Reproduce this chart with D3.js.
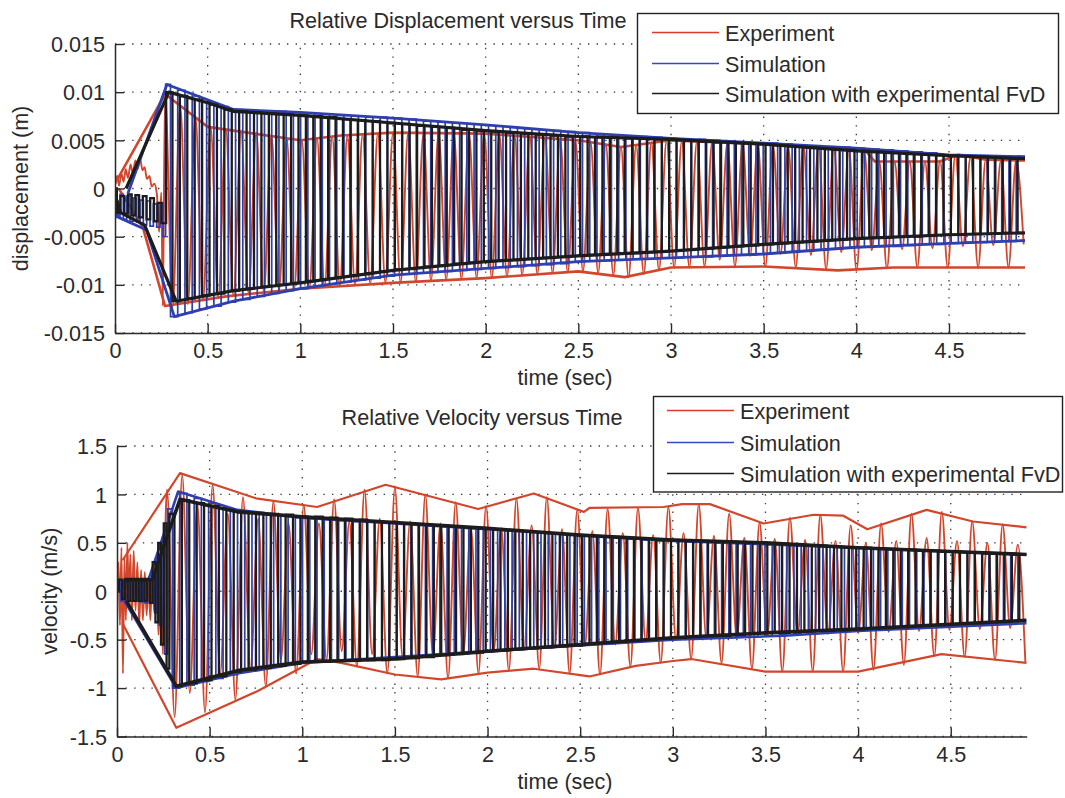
<!DOCTYPE html>
<html>
<head>
<meta charset="utf-8">
<script src="https://cdn.jsdelivr.net/npm/d3@7"></script>
<style>
  body { margin: 0; background: #fff; }
  svg { display: block; }
  text { font-family: "Liberation Sans", Arial, Helvetica, sans-serif; fill: #2a2a2a; }
</style>
</head>
<body>
<svg id="chart" width="1065" height="798"></svg>
<script>
// ---------------------------------------------------------------------------
// Axis ticks and labels
// ---------------------------------------------------------------------------
const timeTicks = [0, 0.5, 1, 1.5, 2, 2.5, 3, 3.5, 4, 4.5];
const timeMax = 4.91;
const dispTicks = [-0.015, -0.01, -0.005, 0, 0.005, 0.01, 0.015];
const velTicks = [-1.5, -1, -0.5, 0, 0.5, 1, 1.5];
const seriesNames = ["Experiment", "Simulation", "Simulation with experimental FvD"];

// ---------------------------------------------------------------------------
// Turning points of each record (time in ms). The same instants are used for
// displacement and velocity peaks of a record.
// ---------------------------------------------------------------------------
const expTurnMs = [270,311,352,393,434,475,516,557,598,639,680,721,762,803,844,885,926,967,1008,1049,
  1090,1131,1172,1213,1254,1295,1336,1377,1418,1459,1500,1541,1582,1623,1664,1705,1746,1787,1828,1869,
  1910,1951,1992,2033,2074,2115,2156,2197,2238,2279,2320,2361,2402,2443,2484,2525,2566,2607,2648,2689,
  2730,2771,2812,2853,2894,2935,2976,3017,3058,3099,3140,3181,3222,3263,3304,3345,3386,3427,3468,3509,
  3550,3591,3632,3673,3714,3755,3796,3837,3878,3919,3960,4001,4042,4083,4124,4165,4206,4247,4288,4329,
  4370,4411,4452,4493,4534,4575,4616,4657,4698,4739,4780,4821,4862,4903];
const simTurnMs = [280,319,358,397,436,475,514,553,592,631,670,709,748,787,826,865,904,943,982,1021,
  1060,1099,1138,1177,1216,1255,1294,1333,1372,1411,1450,1489,1528,1567,1606,1645,1684,1723,1762,1801,
  1840,1879,1918,1957,1996,2035,2074,2113,2152,2191,2230,2269,2308,2347,2386,2425,2464,2503,2542,2581,
  2620,2659,2698,2737,2776,2815,2854,2893,2932,2971,3010,3049,3088,3127,3166,3205,3244,3283,3322,3361,
  3400,3439,3478,3517,3556,3595,3634,3673,3712,3751,3790,3829,3868,3907,3946,3985,4024,4063,4102,4141,
  4180,4219,4258,4297,4336,4375,4414,4453,4492,4531,4570,4609,4648,4687,4726,4765,4804,4843,4882];
const fvdTurnMs = [290,330,370,410,450,490,530,570,610,650,690,730,770,810,850,890,930,970,1010,1050,
  1090,1130,1170,1210,1250,1290,1330,1370,1410,1450,1490,1530,1570,1610,1650,1690,1730,1770,1810,1850,
  1890,1930,1970,2010,2050,2090,2130,2170,2210,2250,2290,2330,2370,2410,2450,2490,2530,2570,2610,2650,
  2690,2730,2770,2810,2850,2890,2930,2970,3010,3050,3090,3130,3170,3210,3250,3290,3330,3370,3410,3450,
  3490,3530,3570,3610,3650,3690,3730,3770,3810,3850,3890,3930,3970,4010,4050,4090,4130,4170,4210,4250,
  4290,4330,4370,4410,4450,4490,4530,4570,4610,4650,4690,4730,4770,4810,4850,4890];

// ---------------------------------------------------------------------------
// Relative displacement (mm)
// ---------------------------------------------------------------------------
// start-up transient, [ms, mm]
const expDispEarly = [[0,0.6],[12,1.3],[22,0.3],[34,1.6],[46,0.7],[58,2.0],[70,1.1],[84,2.5],[96,1.6],
  [110,2.9],[122,2.0],[136,3.1],[148,1.9],[160,2.2],[172,1.0],[186,1.3],[198,0.2],[212,0.5],[226,-0.6],
  [238,-4.5],[250,-0.4],[258,-12.2]];
const simDispEarly = [[0,0],[18,-3.0],[36,-0.6],[54,-3.2],[72,-0.8],[90,-3.4],[108,-1.0],[126,-3.5],
  [144,-1.2],[162,-3.8],[180,-1.3],[198,-3.9],[216,-1.6],[234,-4.0],[252,-1.5],[266,-5.0]];
const fvdDispEarly = [[0,0],[20,-2.5],[40,-0.8],[60,-2.6],[80,-0.6],[100,-2.8],[120,-0.7],[140,-3.0],
  [160,-0.8],[180,-3.2],[200,-1.0],[220,-3.4],[240,-1.5],[262,-3.6]];

// peak values at the turning points, mm
const expDispPeaks = [9.8,-12.3,8.6,-12.0,7.4,-11.6,6.4,-11.3,6.2,-11.1,6.0,-10.9,5.8,-10.8,5.5,-10.6,5.2,-10.5,5.0,-10.3,
  5.2,-10.2,5.4,-10.1,5.5,-10.0,5.6,-9.9,5.7,-9.8,5.8,-9.8,5.8,-9.7,5.7,-9.6,5.8,-9.5,5.7,-9.4,
  5.7,-9.3,5.7,-9.3,5.6,-9.2,5.5,-9.0,5.4,-8.9,5.3,-8.8,5.1,-8.7,5.0,-8.6,4.8,-8.8,4.6,-9.0,
  4.3,-9.2,4.5,-8.9,4.8,-8.5,5.0,-8.2,4.9,-8.2,4.9,-8.1,4.8,-7.4,4.7,-8.1,4.7,-7.0,4.6,-8.1,
  4.5,-6.8,4.4,-8.2,4.4,-6.9,4.3,-8.4,4.2,-6.6,4.1,-8.5,3.9,-6.4,2.8,-8.3,2.8,-6.3,2.8,-8.2,
  2.8,-6.2,2.9,-8.2,3.5,-6.0,3.3,-8.2,3.0,-5.9,2.9,-8.2,2.9,-5.8];
const simDispPeaks = [10.8,-13.3,10.2,-12.9,9.6,-12.5,9.0,-12.2,8.5,-11.8,8.2,-11.5,8.1,-11.2,8.0,-10.9,8.0,-10.6,7.9,-10.4,
  7.8,-10.1,7.7,-9.9,7.6,-9.7,7.5,-9.5,7.4,-9.3,7.4,-9.1,7.3,-8.9,7.2,-8.8,7.0,-8.7,6.9,-8.6,
  6.8,-8.5,6.7,-8.4,6.6,-8.3,6.5,-8.2,6.4,-8.1,6.2,-8.0,6.1,-7.9,6.0,-7.8,5.9,-7.6,5.8,-7.5,
  5.6,-7.5,5.5,-7.4,5.4,-7.3,5.4,-7.3,5.3,-7.2,5.2,-7.2,5.1,-7.1,5.1,-7.1,5.0,-7.0,4.9,-6.9,
  4.8,-6.9,4.7,-6.8,4.7,-6.7,4.6,-6.6,4.5,-6.5,4.4,-6.4,4.3,-6.3,4.3,-6.1,4.2,-6.1,4.1,-6.0,
  4.0,-6.0,3.9,-5.9,3.8,-5.8,3.7,-5.8,3.5,-5.7,3.5,-5.6,3.4,-5.6,3.4,-5.5,3.3,-5.5,3.3];
const fvdDispPeaks = [10.0,-11.7,9.6,-11.4,9.2,-11.1,8.7,-10.9,8.2,-10.6,8.0,-10.4,7.9,-10.2,7.8,-10.0,7.7,-9.8,7.6,-9.6,
  7.5,-9.4,7.4,-9.2,7.2,-9.0,7.1,-8.8,7.0,-8.6,6.8,-8.4,6.7,-8.3,6.5,-8.1,6.4,-8.0,6.3,-7.8,
  6.1,-7.7,6.0,-7.6,5.9,-7.5,5.8,-7.4,5.7,-7.3,5.6,-7.2,5.5,-7.1,5.4,-7.0,5.4,-6.9,5.3,-6.8,
  5.3,-6.7,5.2,-6.7,5.2,-6.6,5.1,-6.5,5.1,-6.4,5.0,-6.3,4.9,-6.2,4.8,-6.1,4.8,-6.0,4.7,-5.9,
  4.6,-5.8,4.5,-5.7,4.4,-5.6,4.3,-5.5,4.2,-5.4,4.1,-5.3,4.0,-5.2,3.9,-5.1,3.8,-5.1,3.7,-5.0,
  3.6,-5.0,3.5,-4.9,3.5,-4.8,3.4,-4.8,3.3,-4.7,3.3,-4.7,3.2,-4.6,3.1,-4.6];

// envelopes, [s, mm]
const expDispUpper = [[0.0,0.5],[0.27,9.8],[0.5,6.4],[1.0,5.0],[1.22,5.5],[1.5,5.8],[2.0,5.7],[2.5,5.0],[2.73,4.3],
  [3.0,5.0],[3.5,4.6],[4.05,3.9],[4.1,2.8],[4.45,2.8],[4.55,3.5],[4.7,3.0],[4.91,2.9]];
const expDispLower = [[0.02,0.0],[0.15,-4.0],[0.27,-12.2],[0.6,-11.2],[1.0,-10.4],[1.5,-9.8],[2.0,-9.3],[2.5,-8.6],
  [2.75,-9.2],[3.0,-8.2],[3.5,-8.1],[3.9,-8.5],[4.2,-8.2],[4.91,-8.2]];
const simDispUpper = [[0.07,-0.5],[0.28,10.8],[0.64,8.2],[1.0,7.9],[1.5,7.3],[2.0,6.6],[2.5,5.8],[3.0,5.2],
  [3.5,4.7],[4.0,4.2],[4.5,3.5],[4.91,3.3]];
const simDispLower = [[0.0,0.0],[0.02,-3.0],[0.17,-4.3],[0.32,-13.3],[0.64,-11.7],[1.0,-10.4],[1.5,-9.0],[2.0,-8.3],
  [2.5,-7.6],[3.0,-7.2],[3.5,-6.8],[4.0,-6.1],[4.5,-5.7],[4.91,-5.4]];
const fvdDispUpper = [[0.06,0.0],[0.29,10.0],[0.5,8.9],[0.64,8.0],[1.0,7.6],[1.5,6.8],[2.0,6.0],[2.5,5.4],
  [3.0,5.1],[3.5,4.6],[4.0,3.9],[4.5,3.4],[4.91,3.1]];
const fvdDispLower = [[0.01,-1.2],[0.03,-2.5],[0.16,-3.8],[0.33,-11.7],[0.5,-11.1],[0.64,-10.6],[1.0,-9.8],
  [1.5,-8.5],[2.0,-7.6],[2.5,-7.0],[3.0,-6.5],[3.5,-5.8],[4.0,-5.2],[4.5,-4.8],[4.91,-4.6]];

// ---------------------------------------------------------------------------
// Relative velocity (m/s)
// ---------------------------------------------------------------------------
const expVelEarly = [[0,0],[8,0.3],[16,-0.35],[24,0.45],[32,-0.85],[40,0.35],[48,-0.3],[56,0.5],[64,-0.15],
  [72,0.38],[80,-0.3],[90,0.42],[100,-0.2],[110,0.3],[120,-0.35],[130,0.22],[140,-0.3],[150,0.2],[160,-0.25],
  [170,0.15],[180,-0.3],[190,0.2],[200,-0.2],[212,0.18],[224,-0.45],[236,0.15],[248,-0.65],[258,0.4]];
const simVelEarly = [[0,0],[14,0.1],[27,-0.1],[40,0.11],[53,-0.1],[66,0.1],[79,-0.1],[92,0.1],[105,-0.1],
  [118,0.1],[131,-0.11],[144,0.1],[157,-0.12],[170,0.12],[183,-0.12],[196,0.2],[209,-0.22],[222,0.35],
  [235,-0.35],[250,0.55],[265,-0.65]];
const fvdVelEarly = [[0,0],[20,0.12],[35,-0.08],[50,0.12],[65,-0.1],[80,0.12],[95,-0.1],[110,0.12],[125,-0.1],
  [140,0.12],[155,-0.1],[170,0.12],[185,-0.12],[200,0.3],[215,-0.32],[230,0.5],[245,-0.55],[260,0.7],[275,-0.8]];

const expVelPeaks = [1.05,-1.30,1.20,-1.05,0.90,-1.25,1.10,-0.85,0.80,-1.12,0.97,-0.80,0.75,-0.98,0.93,-0.70,0.70,-0.85,0.89,-0.65,
  0.70,-0.71,0.95,-0.62,0.72,-0.78,1.05,-0.65,0.75,-0.85,1.07,-0.68,0.72,-0.88,1.00,-0.66,0.70,-0.90,0.92,-0.64,
  0.66,-0.85,0.88,-0.62,0.65,-0.82,0.96,-0.60,0.68,-0.80,0.97,-0.58,0.64,-0.85,0.84,-0.56,0.62,-0.86,0.85,-0.55,
  0.60,-0.78,0.86,-0.52,0.58,-0.74,0.87,-0.50,0.60,-0.70,0.90,-0.49,0.57,-0.74,0.80,-0.48,0.55,-0.80,0.71,-0.46,
  0.54,-0.83,0.76,-0.45,0.53,-0.83,0.79,-0.44,0.52,-0.83,0.68,-0.43,0.50,-0.81,0.70,-0.42,0.52,-0.76,0.80,-0.41,
  0.55,-0.67,0.82,-0.40,0.52,-0.68,0.72,-0.39,0.50,-0.71,0.69,-0.38,0.48,-0.74];
const simVelPeaks = [0.85,-1.00,1.01,-0.97,0.96,-0.93,0.91,-0.90,0.86,-0.86,0.83,-0.82,0.81,-0.80,0.79,-0.78,0.78,-0.76,0.76,-0.74,
  0.75,-0.73,0.74,-0.72,0.73,-0.72,0.72,-0.71,0.72,-0.70,0.71,-0.70,0.70,-0.69,0.69,-0.68,0.68,-0.67,0.67,-0.66,
  0.66,-0.65,0.65,-0.64,0.64,-0.62,0.63,-0.61,0.62,-0.60,0.61,-0.59,0.60,-0.58,0.59,-0.57,0.58,-0.56,0.57,-0.55,
  0.56,-0.54,0.55,-0.53,0.54,-0.52,0.53,-0.51,0.52,-0.50,0.52,-0.49,0.51,-0.49,0.51,-0.48,0.50,-0.48,0.50,-0.47,
  0.49,-0.47,0.49,-0.46,0.48,-0.45,0.48,-0.44,0.47,-0.43,0.47,-0.43,0.46,-0.42,0.45,-0.41,0.45,-0.40,0.44,-0.40,
  0.44,-0.39,0.43,-0.38,0.42,-0.37,0.42,-0.36,0.41,-0.36,0.40,-0.35,0.40,-0.34,0.39,-0.34,0.39,-0.33,0.38];
const fvdVelPeaks = [0.80,-0.98,0.94,-0.95,0.91,-0.92,0.88,-0.88,0.84,-0.83,0.82,-0.81,0.81,-0.79,0.80,-0.77,0.79,-0.75,0.77,-0.73,
  0.77,-0.73,0.76,-0.72,0.75,-0.72,0.74,-0.71,0.72,-0.71,0.71,-0.70,0.70,-0.69,0.69,-0.68,0.68,-0.66,0.67,-0.65,
  0.66,-0.64,0.65,-0.62,0.64,-0.61,0.63,-0.60,0.62,-0.59,0.61,-0.58,0.60,-0.57,0.59,-0.56,0.58,-0.54,0.57,-0.53,
  0.56,-0.52,0.55,-0.51,0.54,-0.50,0.53,-0.49,0.53,-0.48,0.52,-0.47,0.52,-0.46,0.51,-0.46,0.51,-0.45,0.50,-0.44,
  0.50,-0.43,0.49,-0.43,0.48,-0.42,0.47,-0.41,0.47,-0.41,0.46,-0.40,0.45,-0.39,0.45,-0.38,0.44,-0.38,0.43,-0.37,
  0.43,-0.36,0.42,-0.35,0.41,-0.34,0.41,-0.33,0.40,-0.33,0.39,-0.32,0.39,-0.31,0.38,-0.30];

const expVelUpper = [[0.03,0.32],[0.34,1.22],[0.75,0.96],[1.08,0.87],[1.45,1.10],[1.95,0.85],[2.25,1.01],[2.52,0.82],
  [2.55,0.86],[2.95,0.87],[3.05,0.90],[3.2,0.90],[3.49,0.70],[3.76,0.79],[3.92,0.78],[4.05,0.64],[4.37,0.84],
  [4.62,0.72],[4.91,0.66]];
const expVelLower = [[0.03,-0.33],[0.32,-1.41],[0.76,-1.03],[1.08,-0.70],[1.21,-0.74],[1.5,-0.86],[1.75,-0.91],
  [2.0,-0.84],[2.25,-0.80],[2.55,-0.88],[2.8,-0.77],[3.0,-0.72],[3.1,-0.70],[3.5,-0.83],[4.0,-0.83],[4.45,-0.65],
  [4.91,-0.74]];
const simVelUpper = [[0.02,0.1],[0.17,0.12],[0.33,1.03],[0.65,0.84],[1.0,0.76],[2.0,0.64],[3.0,0.52],[4.0,0.45],[4.91,0.38]];
const simVelLower = [[0.04,-0.1],[0.32,-1.0],[0.65,-0.85],[1.0,-0.74],[2.0,-0.62],[3.0,-0.50],[3.6,-0.46],[4.0,-0.41],[4.91,-0.33]];
const fvdVelUpper = [[0.04,0.12],[0.19,0.12],[0.34,0.95],[0.65,0.82],[1.0,0.77],[1.5,0.71],[2.0,0.65],[2.5,0.58],
  [3.0,0.53],[3.5,0.50],[4.0,0.45],[4.5,0.41],[4.91,0.38]];
const fvdVelLower = [[0.05,-0.1],[0.32,-0.98],[0.65,-0.82],[1.0,-0.73],[1.5,-0.70],[2.0,-0.62],[2.5,-0.55],
  [3.0,-0.48],[3.5,-0.43],[4.0,-0.39],[4.5,-0.34],[4.91,-0.30]];

// ---------------------------------------------------------------------------
// Drawing
// ---------------------------------------------------------------------------
const svg = d3.select("#chart");
svg.append("rect").attr("width", 1065).attr("height", 798).attr("fill", "#fff");

const FONT = 21.6;
const INK = "#2a2a2a";
const colors = { exp: "#d2472c", sim: "#2f40ae", fvd: "#1c1c1c" };
const legendColors = ["#db3b2b", "#3548c0", "#1c1c1c"];

function turningPoints(early, turnMs, peaks, unit) {
  return early.map(([ms, v]) => ({ t: ms / 1000, v: v * unit }))
    .concat(turnMs.map((ms, i) => ({ t: ms / 1000, v: peaks[i] * unit })));
}
function envelope(arr, unit) {
  return arr.map(([s, v]) => ({ t: s, v: v * unit }));
}
const tickText = v => String(+v.toFixed(4));

function drawPanel(cfg, idx) {
  const x = d3.scaleLinear().domain([0, timeMax]).range([cfg.x0, cfg.x1]);
  const y = d3.scaleLinear().domain([cfg.yTicks[0], cfg.yTicks[cfg.yTicks.length - 1]]).range([cfg.yBot, cfg.yTop]);
  const g = svg.append("g");

  // dotted grid
  const grid = g.append("g").attr("stroke", "#3a3a3a").attr("stroke-width", 1.3)
    .attr("stroke-dasharray", "1.4,7.2");
  grid.selectAll(".gx").data(timeTicks.filter(t => t > 0)).join("line")
    .attr("x1", d => x(d)).attr("x2", d => x(d)).attr("y1", cfg.yBot).attr("y2", cfg.yTop);
  grid.selectAll(".gy").data(cfg.yTicks).join("line")
    .attr("x1", cfg.x0).attr("x2", cfg.x1).attr("y1", d => y(d)).attr("y2", d => y(d));

  // data, clipped to the axes area
  const clipId = "clip" + idx;
  svg.append("clipPath").attr("id", clipId).append("rect")
    .attr("x", cfg.x0).attr("y", cfg.yTop - 2).attr("width", cfg.x1 - cfg.x0).attr("height", cfg.yBot - cfg.yTop + 2);
  const plot = g.append("g").attr("clip-path", `url(#${clipId})`).attr("fill", "none")
    .attr("stroke-linejoin", "miter").attr("stroke-linecap", "butt");

  const straight = d3.line().x(d => x(d.t)).y(d => y(d.v));

  cfg.series.forEach(s => {
    // simulated traces are held between turning points (vertical strokes with
    // plateaus); the measured trace is a smooth curve through its peaks
    const wave = d3.line().x(d => x(d.t)).y(d => y(d.v)).curve(s.curve);
    plot.append("path").attr("d", wave(s.points)).attr("stroke", s.color).attr("stroke-width", s.waveWidth);
    [s.upper, s.lower].forEach(env =>
      plot.append("path").attr("d", straight(env)).attr("stroke", s.color).attr("stroke-width", s.envWidth)
        .attr("stroke-linejoin", "round"));
  });

  // axes (left and bottom only, ticks pointing inwards)
  const xAxis = g.append("g").attr("transform", `translate(0,${cfg.yBot})`)
    .call(d3.axisBottom(x).tickValues(timeTicks).tickFormat(tickText).tickSize(-9).tickSizeOuter(0).tickPadding(10));
  const yAxis = g.append("g").attr("transform", `translate(${cfg.x0},0)`)
    .call(d3.axisLeft(y).tickValues(cfg.yTicks).tickFormat(tickText).tickSize(-9).tickSizeOuter(0).tickPadding(10));
  [xAxis, yAxis].forEach(a => {
    a.select(".domain").attr("stroke", INK).attr("stroke-width", 1.5);
    a.selectAll(".tick line").attr("stroke", INK).attr("stroke-width", 1.4);
    a.selectAll("text").attr("font-size", FONT).attr("font-family", null).attr("fill", INK);
  });
  yAxis.selectAll("text").attr("dy", "0.36em");

  // titles
  g.append("text").attr("x", cfg.titleX).attr("y", cfg.titleY).attr("text-anchor", "middle")
    .attr("font-size", FONT).text(cfg.title);
  g.append("text").attr("x", 565).attr("y", cfg.yBot + 52).attr("text-anchor", "middle")
    .attr("font-size", FONT).text("time (sec)");
  g.append("text").attr("transform", `translate(${cfg.ylabelX},${(cfg.yTop + cfg.yBot) / 2}) rotate(-90)`)
    .attr("text-anchor", "middle").attr("font-size", FONT).text(cfg.ylabel);

  // legend
  const L = cfg.legend;
  const lg = g.append("g");
  lg.append("rect").attr("x", L.x).attr("y", L.y).attr("width", L.w).attr("height", L.h)
    .attr("fill", "#fff").attr("stroke", "#222").attr("stroke-width", 1.4);
  seriesNames.forEach((name, i) => {
    const ly = L.rows[i];
    lg.append("line").attr("x1", L.lineX0).attr("x2", L.lineX1).attr("y1", ly).attr("y2", ly)
      .attr("stroke", legendColors[i]).attr("stroke-width", 1.6);
    lg.append("text").attr("x", L.textX).attr("y", ly + 8).attr("font-size", FONT).text(name);
  });
}

const MM = 1e-3;

drawPanel({
  x0: 115, x1: 1025, yTop: 44, yBot: 333,
  yTicks: dispTicks,
  title: "Relative Displacement versus Time", titleX: 458, titleY: 28,
  ylabel: "displacement (m)", ylabelX: 28,
  legend: { x: 637.5, y: 13.5, w: 421, h: 100, lineX0: 652, lineX1: 719, textX: 725, rows: [32.5, 63.5, 93.5] },
  series: [
    { color: colors.exp, curve: d3.curveMonotoneX, waveWidth: 1.9, envWidth: 2.6,
      points: turningPoints(expDispEarly, expTurnMs, expDispPeaks, MM),
      upper: envelope(expDispUpper, MM), lower: envelope(expDispLower, MM) },
    { color: colors.sim, curve: d3.curveStep, waveWidth: 1.7, envWidth: 2.8,
      points: turningPoints(simDispEarly, simTurnMs, simDispPeaks, MM),
      upper: envelope(simDispUpper, MM), lower: envelope(simDispLower, MM) },
    { color: colors.fvd, curve: d3.curveStep, waveWidth: 2.3, envWidth: 3.2,
      points: turningPoints(fvdDispEarly, fvdTurnMs, fvdDispPeaks, MM),
      upper: envelope(fvdDispUpper, MM), lower: envelope(fvdDispLower, MM) }
  ]
}, 0);

drawPanel({
  x0: 117, x1: 1026.7, yTop: 446, yBot: 736.5,
  yTicks: velTicks,
  title: "Relative Velocity versus Time", titleX: 482, titleY: 425,
  ylabel: "velocity (m/s)", ylabelX: 57,
  legend: { x: 653.5, y: 396.5, w: 409, h: 95.5, lineX0: 667, lineX1: 734, textX: 740, rows: [410.5, 442.5, 473.5] },
  series: [
    { color: colors.exp, curve: d3.curveMonotoneX, waveWidth: 1.9, envWidth: 2.2,
      points: turningPoints(expVelEarly, expTurnMs, expVelPeaks, 1),
      upper: envelope(expVelUpper, 1), lower: envelope(expVelLower, 1) },
    { color: colors.sim, curve: d3.curveStep, waveWidth: 1.7, envWidth: 2.6,
      points: turningPoints(simVelEarly, simTurnMs, simVelPeaks, 1),
      upper: envelope(simVelUpper, 1), lower: envelope(simVelLower, 1) },
    { color: colors.fvd, curve: d3.curveStep, waveWidth: 2.3, envWidth: 3.6,
      points: turningPoints(fvdVelEarly, fvdTurnMs, fvdVelPeaks, 1),
      upper: envelope(fvdVelUpper, 1), lower: envelope(fvdVelLower, 1) }
  ]
}, 1);
</script>
</body>
</html>
